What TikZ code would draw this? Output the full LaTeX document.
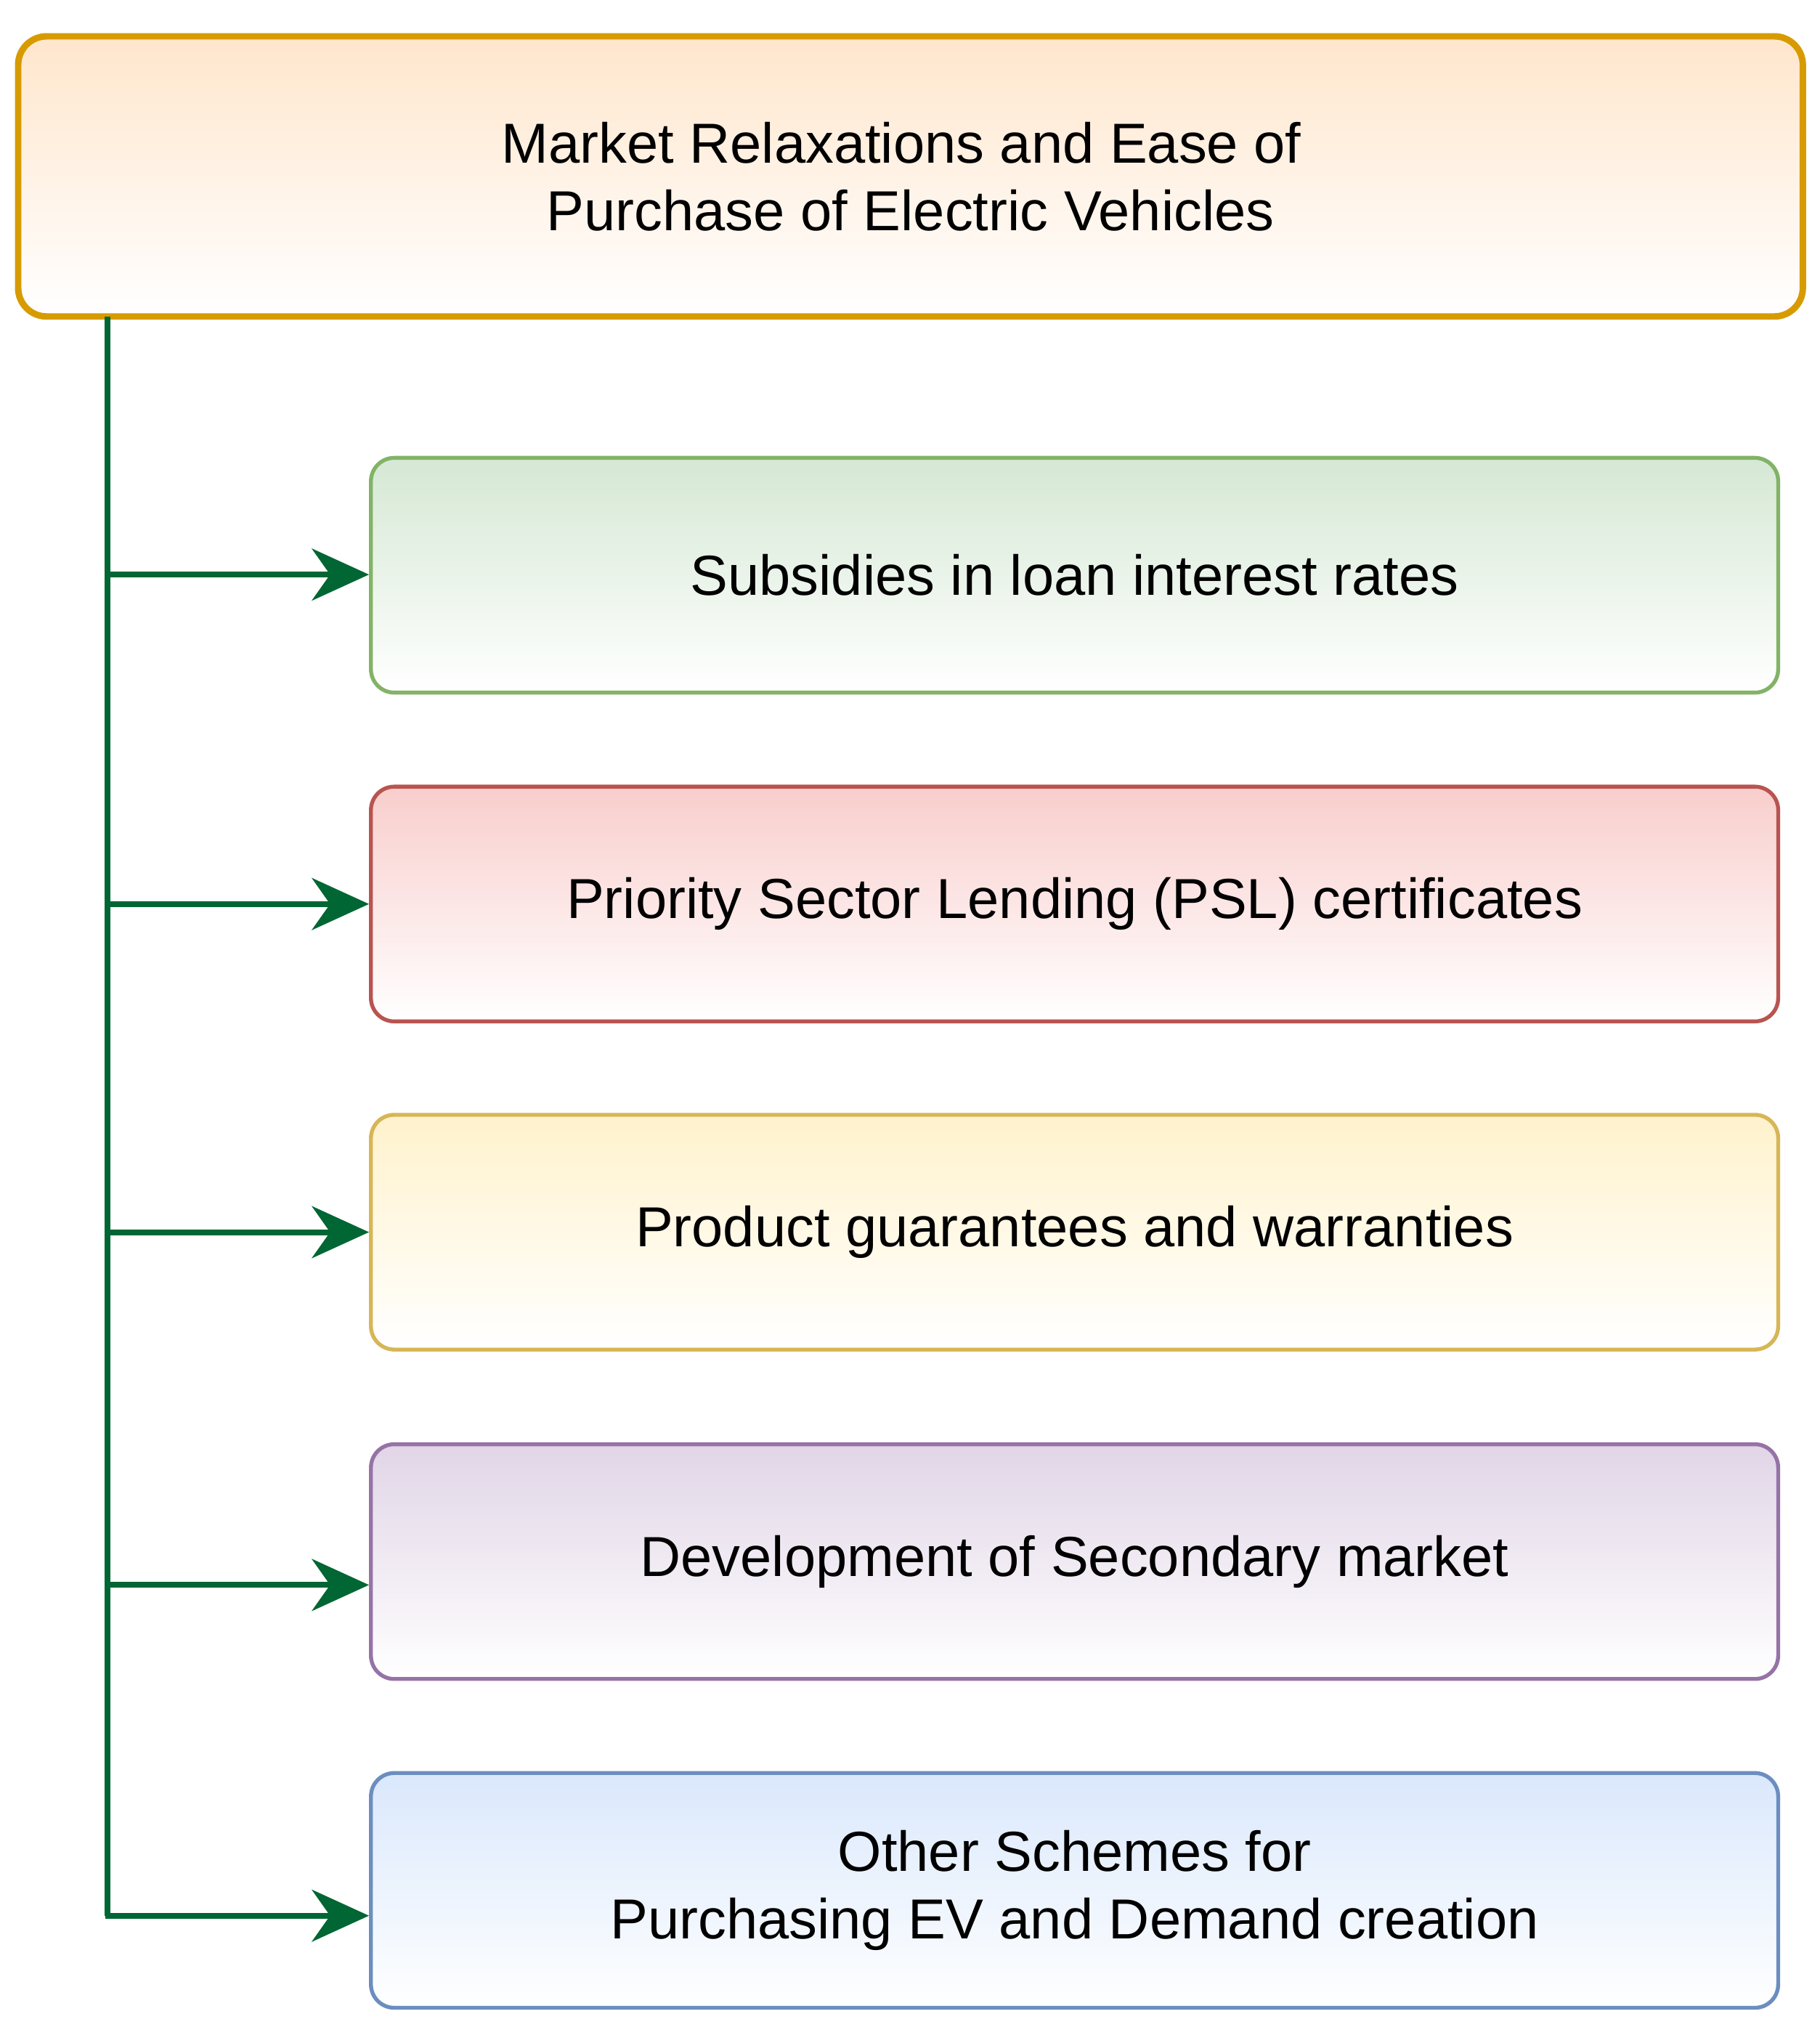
\documentclass[tikz,border=0pt]{standalone}
\usepackage{fontspec}
\setmainfont{Liberation Sans}
\usetikzlibrary{arrows.meta}
\definecolor{arr}{HTML}{006633}
\definecolor{sO}{HTML}{D79B00}\definecolor{fO}{HTML}{FFE6CC}
\definecolor{sa}{HTML}{82B366}\definecolor{fa}{HTML}{D5E8D4}
\definecolor{sb}{HTML}{B85450}\definecolor{fb}{HTML}{F8CECC}
\definecolor{sc}{HTML}{D6B656}\definecolor{fc}{HTML}{FFF2CC}
\definecolor{sd}{HTML}{9673A6}\definecolor{fd}{HTML}{E1D5E7}
\definecolor{se}{HTML}{6C8EBF}\definecolor{fe}{HTML}{DAE8FC}
\begin{document}
\begin{tikzpicture}[x=1pt,y=-1pt,
 box/.style={draw=s#1,top color=f#1,bottom color=white,line width=3pt,rounded corners=18pt,align=center,inner sep=0pt,
   font=\fontsize{43.5}{52}\selectfont},
 con/.style={draw=arr,line width=4.5pt,-{Stealth[length=44pt,width=40pt,inset=14pt]}}]
\useasboundingbox (0,0) rectangle (1403,1569);
\node[box=O,line width=5pt,rounded corners=22pt,minimum width=1376pt,minimum height=216pt] (top) at (702,136) {\hspace*{-14pt}Market Relaxations and Ease of\\Purchase of Electric Vehicles};
\def\mk#1#2#3{\node[box=#1,minimum width=1085pt,minimum height=181pt] (#1) at (828.5,#2) {#3};}
\mk{a}{443.5}{Subsidies in loan interest rates}
\mk{b}{697}{Priority Sector Lending (PSL) certificates}
\mk{c}{950}{Product guarantees and warranties}
\mk{d}{1204}{Development of Secondary market}
\mk{e}{1457.5}{Other Schemes for\\Purchasing EV and Demand creation}
\coordinate (s) at (83,244);
\coordinate (t) at (83,1477);
\draw[draw=arr,line width=4.5pt] (s) -- (t);
\draw[con] (83,443) -- (a.west|-0,443);
\draw[con] (83,697) -- (b.west|-0,697);
\draw[con] (83,950) -- (c.west|-0,950);
\draw[con] (83,1222) -- (d.west|-0,1222);
\draw[con] (81,1477) -- (e.west|-0,1477);
\end{tikzpicture}
\end{document}
